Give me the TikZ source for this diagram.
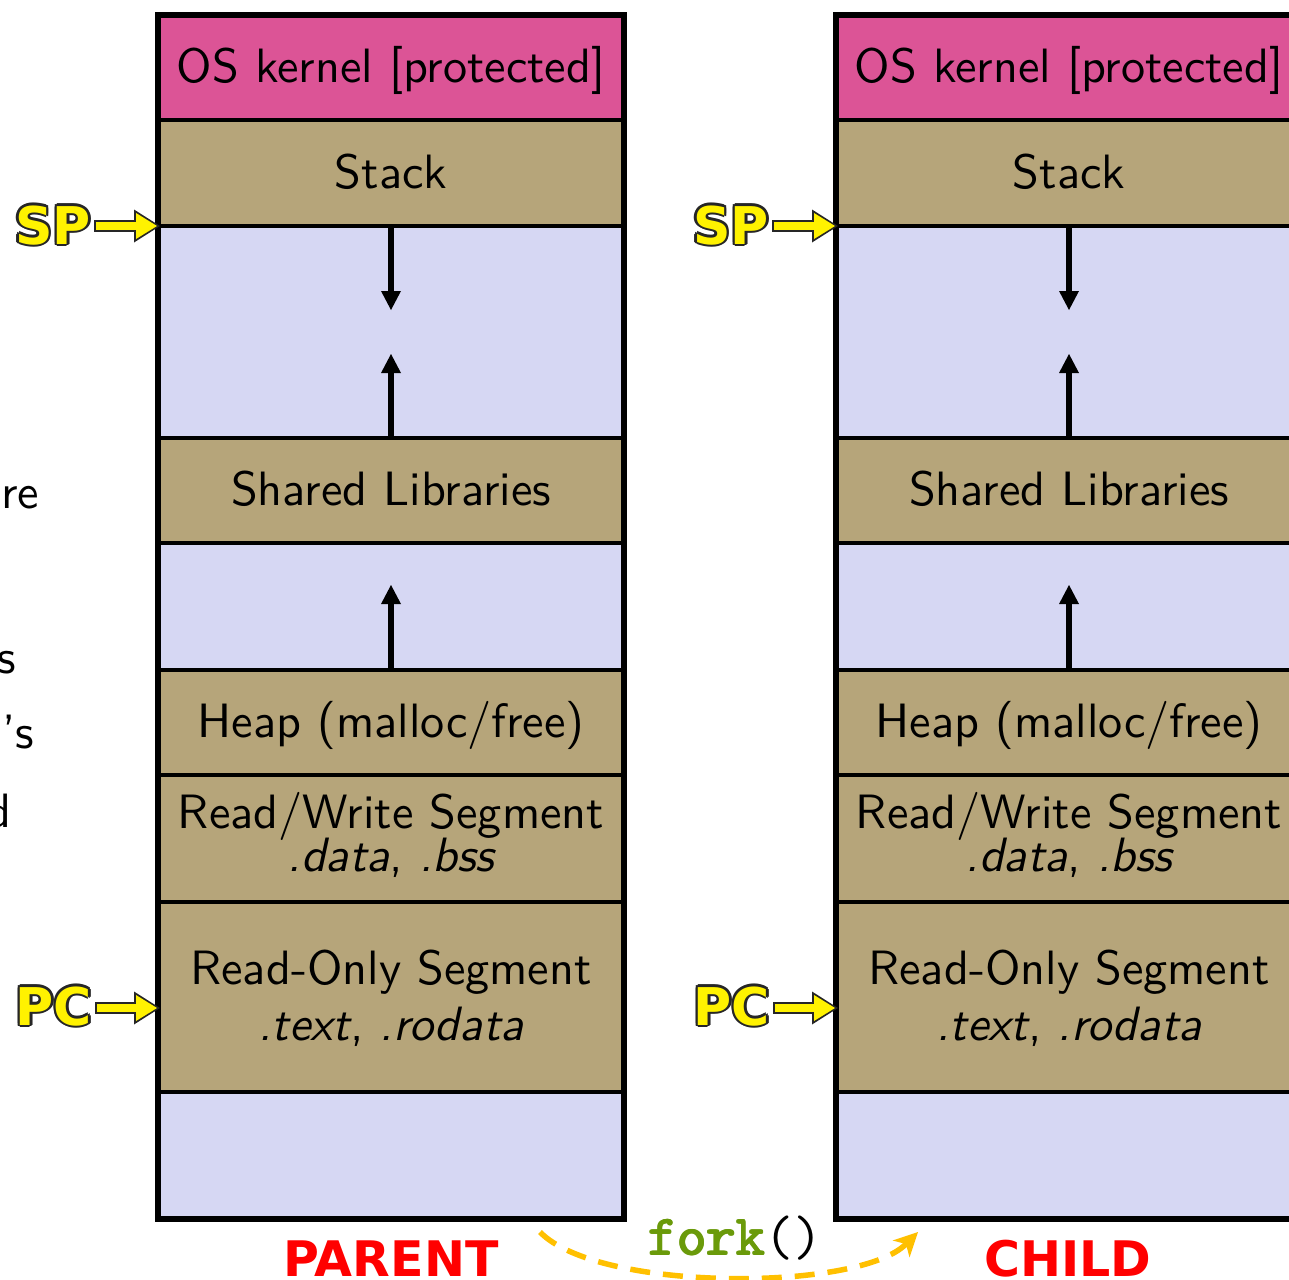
\documentclass[tikz,border=0pt]{standalone}
\usepackage{fontspec}
\usetikzlibrary{arrows.meta}

\newfontfamily\pointerfont{DejaVu Sans}

\definecolor{kernelpink}{RGB}{220,84,150}
\definecolor{segtan}{RGB}{182,165,122}
\definecolor{freelav}{RGB}{214,215,243}
\definecolor{forkgreen}{RGB}{106,154,10}
\definecolor{forkorange}{RGB}{255,192,0}

% yellow lettering with a dark halo around it
\newcommand\haloed[1]{%
  \leavevmode
  \rlap{\textcolor{black!85}{\kern2.5pt #1}}%
  \rlap{\textcolor{black!85}{\kern-2.5pt #1}}%
  \rlap{\textcolor{black!85}{\raisebox{2.5pt}{#1}}}%
  \rlap{\textcolor{black!85}{\raisebox{-2.5pt}{#1}}}%
  \rlap{\textcolor{black!85}{\kern1.8pt\raisebox{1.8pt}{#1}}}%
  \rlap{\textcolor{black!85}{\kern-1.8pt\raisebox{1.8pt}{#1}}}%
  \rlap{\textcolor{black!85}{\kern1.8pt\raisebox{-1.8pt}{#1}}}%
  \rlap{\textcolor{black!85}{\kern-1.8pt\raisebox{-1.8pt}{#1}}}%
  \textcolor{yellow}{#1}}

% heavy strokes for typewriter text, by overprinting
\newcommand\heavytt[1]{%
  \leavevmode
  \rlap{\kern1.6pt #1}%
  \rlap{\kern0.8pt\raisebox{0.8pt}{#1}}%
  \rlap{\kern0.8pt\raisebox{-0.8pt}{#1}}%
  \rlap{\raisebox{0.6pt}{#1}}%
  \rlap{\kern1.6pt\raisebox{0.6pt}{#1}}%
  #1}

\begin{document}
\begin{tikzpicture}[x=1pt,y=-1pt,
  segbox/.style={draw=black, line width=4.5pt, rectangle, inner sep=0pt, outer sep=0pt,
              minimum width=466pt, anchor=north west},
  boxtext/.style={font=\sffamily\fontsize{10}{12}\selectfont, scale=4.82,
                  inner sep=0pt, text=black, anchor=base},
  outerframe/.style={draw=black, line width=6pt},
  growarrow/.style={draw=black, line width=5.5pt,
                    -{Triangle[length=19pt,width=20pt,line width=0pt]}},
  ptrlabel/.style={font=\pointerfont\bfseries\fontsize{52}{60}\selectfont,
                   inner sep=0pt, anchor=base east},
  ptrback/.style={draw=black!85, line width=12pt, shorten <=3pt,
                  -{Triangle[length=26pt,width=33pt,line width=0pt]}},
  ptrfront/.style={draw=yellow, line width=7.5pt, shorten <=5pt, shorten >=3pt,
                   -{Triangle[length=21pt,width=26pt,line width=0pt]}},
  whoname/.style={font=\pointerfont\bfseries\fontsize{49}{56}\selectfont,
              text=red, inner sep=0pt, anchor=base},
  forkarrow/.style={draw=forkorange, line width=5.5pt, dash pattern=on 20pt off 13pt,
                    -{Stealth[length=24pt,width=24pt,inset=7pt,line width=0pt]}}
]
\useasboundingbox (0,0) rectangle (1289,1279);
\clip (0,0) rectangle (1289,1279);

% two address spaces: parent (P) and child (C)
\foreach \c/\x in {P/158, C/836} {
  \node[segbox, fill=kernelpink, minimum height=105pt] (\c-kern)  at (\x,15)   {};
  \node[segbox, fill=segtan,     minimum height=106pt] (\c-stack) at (\x,120)  {};
  \node[segbox, fill=freelav,    minimum height=212pt] (\c-gapA)  at (\x,226)  {};
  \node[segbox, fill=segtan,     minimum height=105pt] (\c-shlib) at (\x,438)  {};
  \node[segbox, fill=freelav,    minimum height=127pt] (\c-gapB)  at (\x,543)  {};
  \node[segbox, fill=segtan,     minimum height=105pt] (\c-heap)  at (\x,670)  {};
  \node[segbox, fill=segtan,     minimum height=127pt] (\c-rw)    at (\x,775)  {};
  \node[segbox, fill=segtan,     minimum height=190pt] (\c-ro)    at (\x,902)  {};
  \node[segbox, fill=freelav,    minimum height=127pt] (\c-gapC)  at (\x,1092) {};
  \draw[outerframe] (\x,15) rectangle (\x+466,1219);

  % growth directions of stack, mmap region and heap
  \coordinate (\c-down) at (\x+233,310);
  \coordinate (\c-upA)  at (\x+233,354);
  \coordinate (\c-upB)  at (\x+233,585);
  \draw[growarrow] (\c-stack.south) -- (\c-down);
  \draw[growarrow] (\c-shlib.north) -- (\c-upA);
  \draw[growarrow] (\c-heap.north)  -- (\c-upB);

  % segment captions
  \node[boxtext] (\c-kern-t)  at (\x+233,83)   {OS kernel [protected]};
  \node[boxtext] (\c-stack-t) at (\x+233,188)  {Stack};
  \node[boxtext] (\c-shlib-t) at (\x+233,505)  {Shared Libraries};
  \node[boxtext] (\c-heap-t)  at (\x+233,737)  {Heap (malloc/free)};
  \node[boxtext] (\c-rw-t)    at (\x+233,828)  {Read/Write Segment};
  \node[boxtext] (\c-rw-s)    at (\x+233,871)  {\itshape .data\upshape, \itshape .bss};
  \node[boxtext] (\c-ro-t)    at (\x+233,984)  {Read-Only Segment};
  \node[boxtext] (\c-ro-s)    at (\x+233,1040) {\itshape .text\upshape, \itshape .rodata};

  % stack pointer and program counter
  \coordinate (\c-sptip) at (\x+2,226);
  \coordinate (\c-pctip) at (\x+2,1008);
  \node[ptrlabel] (\c-sp) at (\x-67,244)  {\haloed{SP}};
  \node[ptrlabel] (\c-pc) at (\x-66,1025) {\haloed{PC}};
  \draw[ptrback]  (\c-sp.east |- \c-sptip) -- (\c-sptip);
  \draw[ptrfront] (\c-sp.east |- \c-sptip) -- (\c-sptip);
  \draw[ptrback]  (\c-pc.east |- \c-pctip) -- (\c-pctip);
  \draw[ptrfront] (\c-pc.east |- \c-pctip) -- (\c-pctip);
}

% process names
\node[whoname] (parent) at (391,1276) {PARENT};
\node[whoname] (child)  at (1068,1276) {CHILD};

% the fork call
\coordinate (forkfrom) at (540,1232);
\coordinate (forkto)   at (918,1232);
\draw[forkarrow] (forkfrom) .. controls (598,1292) and (858,1292) .. (forkto);
\node[inner sep=0pt, anchor=base west] (forkcall) at (647,1255)
  {\ttfamily\fontsize{57}{62}\selectfont\textcolor{forkgreen}{\heavytt{fork}}()};

% text running off the left side
\node[boxtext, anchor=base east] (fragA) at (40,508) {re};
\node[boxtext, anchor=base east] (fragB) at (17,673) {s};
\node[boxtext, anchor=base east] (fragC) at (35,748) {’s};
\node[boxtext, anchor=base east] (fragD) at (12,827) {d};
\end{tikzpicture}
\end{document}
